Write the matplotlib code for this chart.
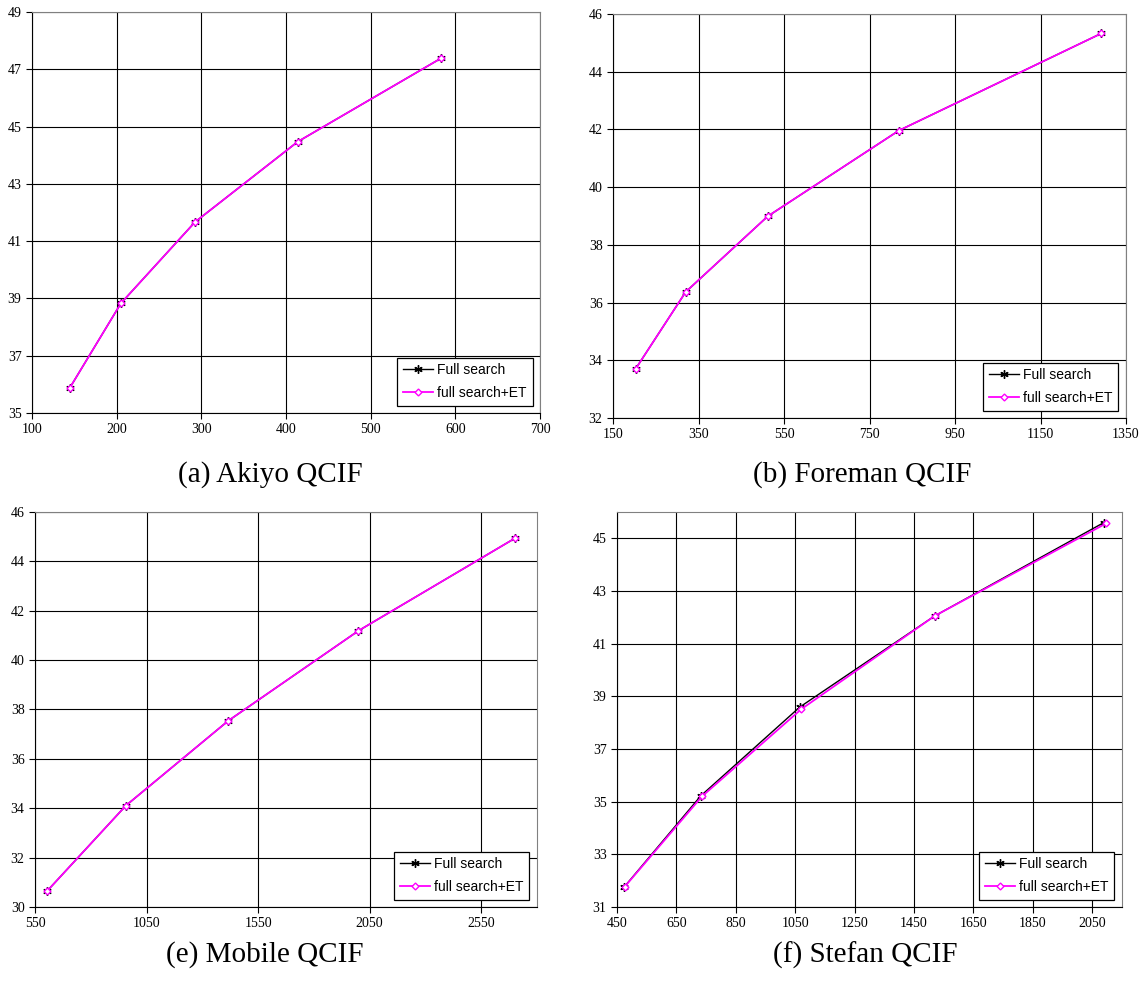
import numpy as np
import matplotlib
matplotlib.use("Agg")
import matplotlib.pyplot as plt

# Akiyo QCIF
akiyo_rate_fs = [144.7, 205, 292.6, 413.7, 583.3]
akiyo_psnr_fs = [35.88, 38.83, 41.67, 44.47, 47.39]
akiyo_rate_et = [144.7, 205, 292.6, 413.7, 583.3]
akiyo_psnr_et = [35.88, 38.83, 41.67, 44.47, 47.39]

# Foreman QCIF
foreman_rate_fs = [202.7, 320, 511.8, 818.4, 1292.5]
foreman_psnr_fs = [33.70, 36.37, 38.99, 41.96, 45.33]
foreman_rate_et = [202.7, 320, 511.8, 818.4, 1292.5]
foreman_psnr_et = [33.70, 36.37, 38.99, 41.96, 45.33]

# Mobile QCIF
mobile_rate_fs = [606, 958, 1416, 2000, 2700]
mobile_psnr_fs = [30.66, 34.11, 37.54, 41.19, 44.93]
mobile_rate_et = [606, 958, 1416, 2000, 2700]
mobile_psnr_et = [30.66, 34.11, 37.54, 41.19, 44.93]

# Stefan QCIF
stefan_rate_fs = [475, 732, 1065, 1519, 2089]
stefan_psnr_fs = [31.77, 35.22, 38.59, 42.05, 45.60]
stefan_rate_et = [476, 736, 1070, 1519, 2097]
stefan_psnr_et = [31.77, 35.20, 38.51, 42.05, 45.57]

captions = ["(a) Akiyo QCIF", "(b) Foreman QCIF", "(e) Mobile QCIF", "(f) Stefan QCIF"]
labels = ["Full search", "full search+ET"]

W, H = 1142, 982
panels = [
    # data, xlim, xticks, ylim, yticks, axes rect, caption position (px)
    ((akiyo_rate_fs, akiyo_psnr_fs, akiyo_rate_et, akiyo_psnr_et),
     (100, 700), np.arange(100, 701, 100), (35, 49), np.arange(35, 50, 2),
     [0.028, 0.5794, 0.445, 0.4084], (270, 475)),
    ((foreman_rate_fs, foreman_psnr_fs, foreman_rate_et, foreman_psnr_et),
     (150, 1350), np.arange(150, 1351, 200), (32, 46), np.arange(32, 47, 2),
     [0.5368, 0.5743, 0.4492, 0.4114], (862, 475)),
    ((mobile_rate_fs, mobile_psnr_fs, mobile_rate_et, mobile_psnr_et),
     (550, 2800), np.arange(550, 2551, 500), (30, 46), np.arange(30, 47, 2),
     [0.0306, 0.0764, 0.4396, 0.4022], (265, 955)),
    ((stefan_rate_fs, stefan_psnr_fs, stefan_rate_et, stefan_psnr_et),
     (450, 2150), np.arange(450, 2051, 200), (31, 46), np.arange(31, 46, 2),
     [0.5403, 0.0764, 0.4422, 0.4022], (865, 955)),
]

fig = plt.figure(figsize=(W / 100, H / 100), dpi=100)

for (data, xlim, xt, ylim, yt, rect, cpos), cap in zip(panels, captions):
    rx_fs, py_fs, rx_et, py_et = data
    ax = fig.add_axes(rect)
    ax.plot(rx_fs, py_fs, color="black", lw=1.0, marker=(6, 2, 0),
            markersize=6, markeredgewidth=1.0, label=labels[0], zorder=3)
    ax.plot(rx_et, py_et, color="#ff00ff", lw=1.3, marker="D", markersize=3.5,
            markerfacecolor="white", markeredgecolor="#ff00ff",
            markeredgewidth=1.0, label=labels[1], zorder=4)
    ax.set_xlim(*xlim)
    ax.set_ylim(*ylim)
    ax.set_xticks(xt)
    ax.set_yticks(yt)
    ax.grid(True, color="black", lw=0.8)
    ax.set_axisbelow(True)
    for s in ["top", "right"]:
        ax.spines[s].set_color("#808080")
    for s in ["left", "bottom"]:
        ax.spines[s].set_color("black")
    ax.tick_params(direction="out", length=4, width=0.8, labelsize=10)
    for t in ax.get_xticklabels() + ax.get_yticklabels():
        t.set_fontfamily("Liberation Serif")
    leg = ax.legend(loc="lower right", bbox_to_anchor=(0.985, 0.018),
                    fancybox=False, edgecolor="black", framealpha=1,
                    prop={"family": "Liberation Sans", "size": 10},
                    handlelength=2.2, handletextpad=0.3, borderpad=0.4,
                    labelspacing=0.65, borderaxespad=0)
    leg.get_frame().set_linewidth(0.9)
    # caption centered below each chart
    fig.text(cpos[0] / W, 1 - cpos[1] / H, cap, ha="center", va="center",
             fontsize=21, fontfamily="Liberation Serif")

fig.savefig("out.png", dpi=100)
